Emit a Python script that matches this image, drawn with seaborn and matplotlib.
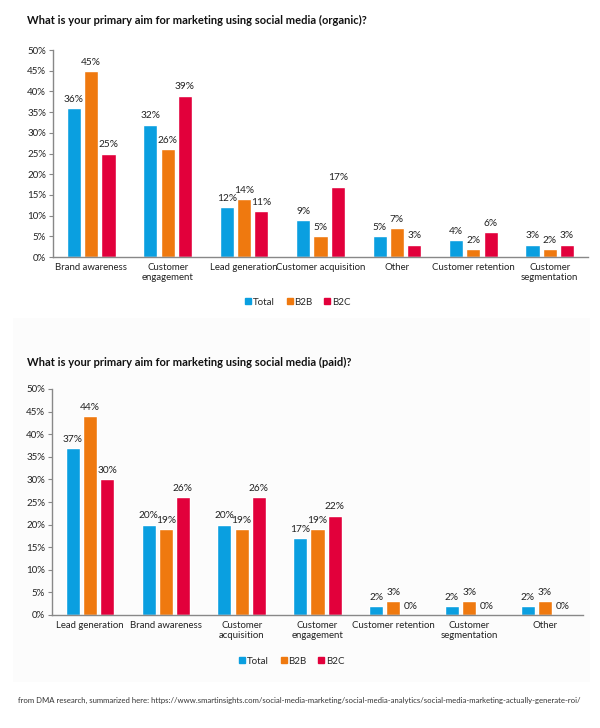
import matplotlib
matplotlib.use("Agg")
import matplotlib.pyplot as plt
import matplotlib.patches as mpatches
import seaborn as sns
import pandas as pd

# organic
organic_cats = ["Brand awareness", "Customer\nengagement", "Lead generation",
                "Customer acquisition", "Other", "Customer retention",
                "Customer\nsegmentation"]
organic_total = [36, 32, 12, 9, 5, 4, 3]
organic_b2b = [45, 26, 14, 5, 7, 2, 2]
organic_b2c = [25, 39, 11, 17, 3, 6, 3]

# paid
paid_cats = ["Lead generation", "Brand awareness", "Customer\nacquisition",
             "Customer\nengagement", "Customer retention", "Customer\nsegmentation",
             "Other"]
paid_total = [37, 20, 20, 17, 2, 2, 2]
paid_b2b = [44, 19, 19, 19, 3, 3, 3]
paid_b2c = [30, 26, 26, 22, 0, 0, 0]

series = ["Total", "B2B", "B2C"]
colors = ["#0a9fe0", "#ef790f", "#e2003b"]
yticks = [0, 5, 10, 15, 20, 25, 30, 35, 40, 45, 50]

sns.set_style("white")
plt.rcParams["font.family"] = ["Lato", "DejaVu Sans"]

fig = plt.figure(figsize=(6, 7.28), dpi=100)

# very faint panel behind the second chart
fig.patches.append(mpatches.Rectangle((13 / 600, 1 - 682 / 728), 577 / 600, 364 / 728,
                                      transform=fig.transFigure, facecolor="#fcfcfc",
                                      edgecolor="none", zorder=-5))


def draw(ax, cats, total, b2b, b2c):
    df = pd.DataFrame({"cat": cats, "Total": total, "B2B": b2b, "B2C": b2c})
    df = df.melt(id_vars="cat", var_name="series", value_name="value")
    sns.barplot(data=df, x="cat", y="value", hue="series", hue_order=series,
                palette=colors, width=0.68, gap=0.18, ax=ax, legend=False,
                saturation=1)
    for c in ax.containers:
        ax.bar_label(c, fmt="{:.0f}%", padding=3, fontsize=7.3, color="#222222")
    ax.set_xlim(-0.5, len(cats) - 0.5)
    ax.set_ylim(0, 50)
    ax.set_yticks(yticks)
    ax.set_yticklabels([f"{t}%" for t in yticks], fontsize=7, color="#222222")
    ax.tick_params(axis="y", length=3, width=0.8, color="#888888", pad=2, left=True)
    ax.tick_params(axis="x", length=0, labelsize=6.9, labelcolor="#222222", pad=4)
    ax.set_xlabel("")
    ax.set_ylabel("")
    ax.set_facecolor("none")
    sns.despine(ax=ax)
    for s in ["left", "bottom"]:
        ax.spines[s].set_color("#888888")
        ax.spines[s].set_linewidth(1.0)
    handles = [mpatches.Patch(color=col, label=lab) for col, lab in zip(colors, series)]
    return handles


ax1 = fig.add_axes([53 / 600, 1 - 257 / 728, 535 / 600, 207 / 728])
h = draw(ax1, organic_cats, organic_total, organic_b2b, organic_b2c)
ax2 = fig.add_axes([52 / 600, 1 - 615 / 728, 531 / 600, 226 / 728])
draw(ax2, paid_cats, paid_total, paid_b2b, paid_b2c)

fig.text(27 / 600, 1 - 20 / 728,
         "What is your primary aim for marketing using social media (organic)?",
         fontsize=8, fontweight="bold", va="center", color="#111111")
fig.text(27 / 600, 1 - 362 / 728,
         "What is your primary aim for marketing using social media (paid)?",
         fontsize=8, fontweight="bold", va="center", color="#111111")

leg_kw = dict(ncol=3, frameon=False, fontsize=7, handlelength=0.6, handleheight=0.6,
              handletextpad=0.2, columnspacing=1.2, loc="center")
fig.legend(handles=h, bbox_to_anchor=(298 / 600, 1 - 302 / 728), **leg_kw)
fig.legend(handles=h, bbox_to_anchor=(292 / 600, 1 - 661 / 728), **leg_kw)

fig.text(18 / 600, 1 - 700 / 728,
         "from DMA research, summarized here: https://www.smartinsights.com/social-media-marketing/"
         "social-media-analytics/social-media-marketing-actually-generate-roi/",
         fontsize=5.6, va="center", color="#333333")

fig.savefig("out.png", dpi=100)
